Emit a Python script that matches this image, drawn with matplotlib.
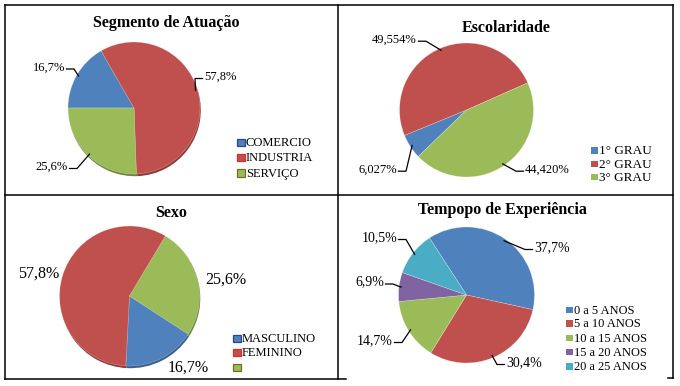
import matplotlib
matplotlib.use("Agg")
import numpy as np
import matplotlib.pyplot as plt
from matplotlib.patches import Rectangle
from matplotlib.lines import Line2D

plt.rcParams['font.family'] = ['Liberation Serif', 'DejaVu Serif']

# ---------------- data ----------------
seg_title = "Segmento de Atuação"
seg_labels = ["COMERCIO", "INDUSTRIA", "SERVIÇO"]
seg_values = [16.7, 57.8, 25.6]

esc_title = "Escolaridade"
esc_labels = ["1° GRAU", "2° GRAU", "3° GRAU"]
esc_values = [6.027, 49.554, 44.420]

sexo_title = "Sexo"
sexo_labels = ["MASCULINO", "FEMININO", ""]
sexo_values = [16.7, 57.8, 25.6]

exp_title = "Tempopo de Experiência"
exp_labels = ["0 a 5 ANOS", "5 a 10 ANOS", "10 a 15 ANOS", "15 a 20 ANOS", "20 a 25 ANOS"]
exp_values = [37.7, 30.4, 14.7, 6.9, 10.5]

# ---------------- style ----------------
BLUE, RED, GREEN, PURPLE, TEAL = "#4F81BD", "#C0504D", "#9BBB59", "#8064A2", "#4BACC6"
DBLUE, DRED, DGREEN = "#3A5F8E", "#8E3B39", "#6F8640"

W, H = 680, 386
fig = plt.figure(figsize=(6.8, 3.86), dpi=100)
ax = fig.add_axes([0, 0, 1, 1])


def Y(y):
    return H - y


def fmt(v, nd):
    return f"{v:.{nd}f}".replace(".", ",") + "%"


def draw_pie(values, colors, cx, cy, r, start, shadow=None):
    if shadow is not None:
        ax.pie(values, colors=shadow, startangle=start, counterclock=False,
               center=(cx + 0.8, Y(cy + 2.2)), radius=r,
               wedgeprops=dict(linewidth=0))
    wedges, _ = ax.pie(values, colors=colors, startangle=start, counterclock=False,
                       center=(cx, Y(cy)), radius=r,
                       wedgeprops=dict(linewidth=0.3, edgecolor=(1, 1, 1, 0.5)))
    return wedges


def leader_labels(wedges, texts, cx, cy, r, spots, size):
    for w, t, (tx, ty, side) in zip(wedges, texts, spots):
        mid = np.deg2rad((w.theta1 + w.theta2) / 2)
        ex = cx + r * 0.97 * np.cos(mid)
        ey = cy - r * 0.97 * np.sin(mid)
        ly = ty - 1.5
        if side == "r":  # text to the left, anchored right
            xs = [ex, tx + 9, tx + 1.5]
            ha = "right"
        else:
            xs = [ex, tx - 9, tx - 1.5]
            ha = "left"
        ax.plot(xs, [Y(ey), Y(ly), Y(ly)], color="black", lw=0.9,
                solid_joinstyle="miter")
        ax.text(tx, Y(ty), t, ha=ha, va="baseline", fontsize=size)


def legend(labels, colors, x, ys, size, edges=None, sq=7.5):
    for i, (lab, c, yc) in enumerate(zip(labels, colors, ys)):
        ec = edges[i] if edges else c
        ax.add_patch(Rectangle((x, Y(yc) - sq / 2), sq, sq, facecolor=c,
                               edgecolor=ec, lw=0.9 if edges else 0))
        ax.text(x + sq + 1.5, Y(yc + 3.8), lab, ha="left", va="baseline", fontsize=size)


# ---------------- panel 1 ----------------
cx, cy, r = 134, 108, 66
w = draw_pie(seg_values, [BLUE, RED, GREEN], cx, cy, r, 180, shadow=[DBLUE, DRED, DGREEN])
ax.text(166.5, Y(27), seg_title, ha="center", va="baseline", fontsize=11.5, fontweight="bold")
leader_labels(w, [fmt(v, 1) for v in seg_values], cx, cy, r,
              [(65, 70.5, "r"), (204, 80, "l"), (68, 170, "r")], 9)
legend(seg_labels, [BLUE, RED, GREEN], 237, [142.5, 157.5, 173], 9,
       edges=["#24468A", "#E0282E", "#7B6B2A"])

# ---------------- panel 2 ----------------
cx, cy, r = 466.5, 110, 67
w = draw_pie(esc_values, [BLUE, RED, GREEN], cx, cy, r, 224)
ax.text(506, Y(32), esc_title, ha="center", va="baseline", fontsize=11.5, fontweight="bold")
leader_labels(w, [fmt(v, 3) for v in esc_values], cx, cy, r,
              [(397, 172.7, "r"), (417, 42.7, "r"), (525, 172.7, "l")], 9)
legend(esc_labels, [BLUE, RED, GREEN], 591, [150.5, 164, 177], 9.5, sq=6.5)

# ---------------- panel 3 ----------------
cx, cy, r = 129.5, 296, 70
w = draw_pie(sexo_values, [BLUE, RED, GREEN], cx, cy, r, -33, shadow=[DBLUE, DRED, DGREEN])
ax.text(171, Y(217), sexo_title, ha="center", va="baseline", fontsize=11.5, fontweight="bold")
for t, (tx, ty) in zip([fmt(v, 1) for v in sexo_values], [(188, 372), (39, 278), (226, 284)]):
    ax.text(tx, Y(ty), t, ha="center", va="baseline", fontsize=11.5)
legend(sexo_labels, [BLUE, RED, GREEN], 233, [338.5, 352.5, 367.5], 9,
       edges=["#24468A", "#E0282E", "#7B6B2A"])

# ---------------- panel 4 ----------------
cx, cy, r = 466.5, 295, 68
w = draw_pie(exp_values, [BLUE, RED, GREEN, PURPLE, TEAL], cx, cy, r, 123)
ax.text(502, Y(214), exp_title, ha="center", va="baseline", fontsize=11.5, fontweight="bold")
leader_labels(w, [fmt(v, 1) for v in exp_values], cx, cy, r,
              [(534, 251, "l"), (506, 366, "l"), (393, 344, "r"), (384, 285.5, "r"),
               (397, 241, "r")], 10)
legend(exp_labels, [BLUE, RED, GREEN, PURPLE, TEAL], 566, [310, 323.5, 338, 352, 366.5],
       8.9, sq=6.5)

# ---------------- frame lines ----------------
frame = [
    ([4.5, 673], [4.5, 4.5]),
    ([4.5, 4.5], [4.5, 379]),
    ([673, 673], [4.5, 378]),
    ([338, 338], [4.5, 379]),
    ([4.5, 673], [195, 195]),
    ([4.5, 346], [379, 379]),
    ([668, 673], [378, 378]),
]
for xs, ys in frame:
    ax.add_line(Line2D(xs, [Y(v) for v in ys], color="black", lw=1.1))

ax.set_xlim(0, W)
ax.set_ylim(0, H)
ax.set_aspect("auto")
ax.axis("off")
fig.savefig("out.png", dpi=100)
